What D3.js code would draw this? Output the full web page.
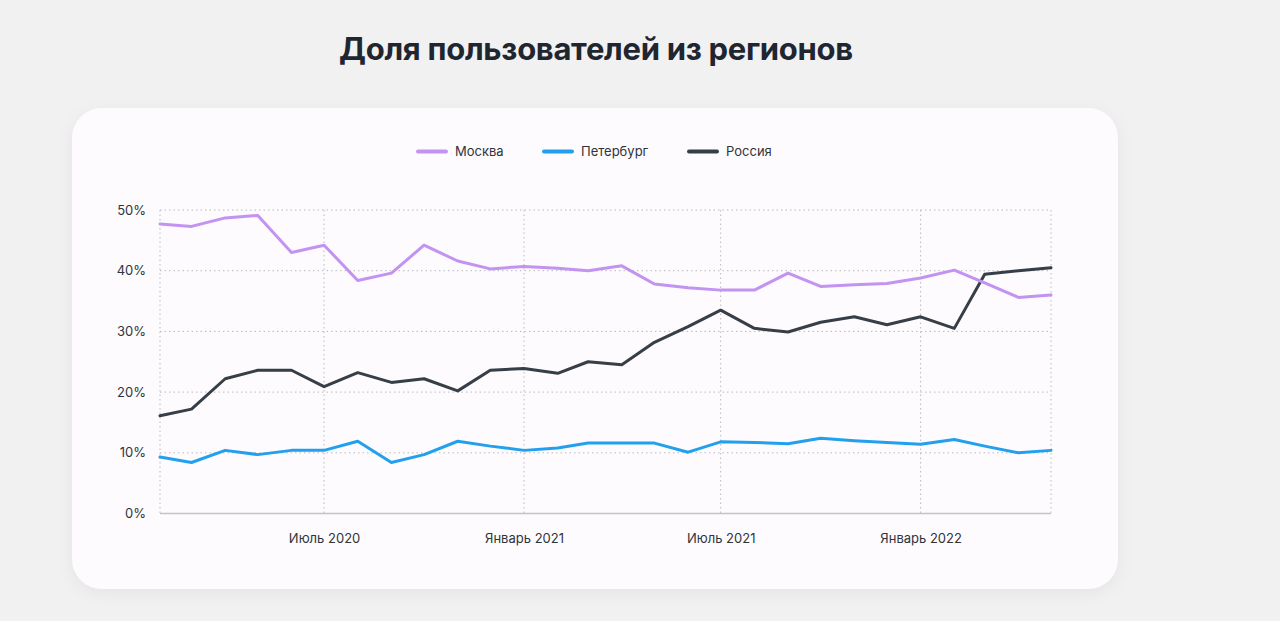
<!DOCTYPE html>
<html>
<head>
<meta charset="utf-8">
<script src="https://cdn.jsdelivr.net/npm/d3@7"></script>
<style>
  html, body { margin: 0; padding: 0; background: #f1f1f2; }
  svg { display: block; }
</style>
</head>
<body>
<svg id="chart" width="1280" height="621"></svg>
<script>
const months = ["2020-02","2020-03","2020-04","2020-05","2020-06","2020-07","2020-08","2020-09","2020-10","2020-11","2020-12",
  "2021-01","2021-02","2021-03","2021-04","2021-05","2021-06","2021-07","2021-08","2021-09","2021-10","2021-11","2021-12",
  "2022-01","2022-02","2022-03","2022-04","2022-05"];
const moscow = [47.7,47.3,48.7,49.1,43.0,44.2,38.4,39.6,44.2,41.6,40.3,40.7,40.4,40.0,40.8,37.8,37.2,36.8,36.8,39.6,37.4,37.7,37.9,38.8,40.1,38.0,35.6,36.0];
const spb =    [9.3,8.4,10.4,9.7,10.4,10.4,11.9,8.4,9.7,11.9,11.1,10.4,10.8,11.6,11.6,11.6,10.1,11.8,11.7,11.5,12.4,12.0,11.7,11.4,12.2,11.1,10.0,10.4];
const russia = [16.1,17.2,22.2,23.6,23.6,20.9,23.2,21.6,22.2,20.2,23.6,23.9,23.1,25.0,24.5,28.2,30.8,33.5,30.5,29.9,31.5,32.4,31.1,32.4,30.5,39.4,40.0,40.5];
const seriesNames = ["Москва","Петербург","Россия"];
const seriesColors = ["#c293f0","#22a0ee","#363e47"];
const yTicks = [0,10,20,30,40,50];
const xTickDates = ["2020-07","2021-01","2021-07","2022-01"];
const xTickLabels = ["Июль 2020","Январь 2021","Июль 2021","Январь 2022"];
const title = "Доля пользователей из регионов";

const parse = d3.timeParse("%Y-%m");
const dates = months.map(parse);
const series = [moscow, spb, russia];

const svg = d3.select("#chart");
const font = "Inter, 'Noto Sans', sans-serif";

const defs = svg.append("defs");
const f = defs.append("filter").attr("id","shadow").attr("x","-10%").attr("y","-10%").attr("width","120%").attr("height","130%");
f.append("feDropShadow").attr("dx",0).attr("dy",4).attr("stdDeviation",8).attr("flood-color","#000").attr("flood-opacity",0.05);

svg.append("text").attr("x",596).attr("y",60).attr("text-anchor","middle")
  .attr("font-family",font).attr("font-weight",700).attr("font-size",31)
  .attr("fill","#1f2630").attr("letter-spacing","-0.3").text(title);

svg.append("rect").attr("x",72).attr("y",108).attr("width",1046).attr("height",481)
  .attr("rx",30).attr("ry",30).attr("fill","#fdfbfd").attr("filter","url(#shadow)");

const x = d3.scaleTime().domain([dates[0], dates[dates.length-1]]).range([160, 1051]);
const y = d3.scaleLinear().domain([0,50]).range([513.5, 210]);

const g = svg.append("g");

// horizontal grid
g.selectAll(".hg").data(yTicks.filter(t=>t>0)).join("line")
  .attr("x1",160).attr("x2",1051).attr("y1",d=>y(d)).attr("y2",d=>y(d))
  .attr("stroke","#b9b9bd").attr("stroke-width",1).attr("stroke-dasharray","1.5,3");
// vertical grid
const vg = [dates[0], ...xTickDates.map(parse), dates[dates.length-1]];
g.selectAll(".vg").data(vg).join("line")
  .attr("x1",d=>x(d)).attr("x2",d=>x(d)).attr("y1",y(50)).attr("y2",y(0))
  .attr("stroke","#b9b9bd").attr("stroke-width",1).attr("stroke-dasharray","1.5,3");
// baseline
g.append("line").attr("x1",160).attr("x2",1051).attr("y1",y(0)).attr("y2",y(0))
  .attr("stroke","#c4c4c8").attr("stroke-width",1.5);

// y labels
const yAxis = d3.axisLeft(y).tickValues(yTicks).tickFormat(d=>d+"%").tickSize(0).tickPadding(14);
const ya = svg.append("g").attr("transform","translate(160,0)").call(yAxis);
ya.select(".domain").remove();
ya.selectAll("text").attr("font-family",font).attr("font-size",13).attr("fill","#2f343b");

// x labels
const xAxis = d3.axisBottom(x).tickValues(xTickDates.map(parse)).tickFormat((d,i)=>xTickLabels[i]).tickSize(0).tickPadding(20);
const xa = svg.append("g").attr("transform",`translate(0,${y(0)})`).call(xAxis);
xa.select(".domain").remove();
xa.selectAll("text").attr("font-family",font).attr("font-size",13).attr("fill","#2f343b");

// lines
const line = d3.line().x((d,i)=>x(dates[i])).y(d=>y(d)).curve(d3.curveLinear);
[2,1,0].forEach(k=>{
  g.append("path").datum(series[k]).attr("d",line).attr("fill","none")
    .attr("stroke",seriesColors[k]).attr("stroke-width",3).attr("stroke-linejoin","round").attr("stroke-linecap","round");
});

// legend
const legX = [418, 544, 689];
const leg = svg.append("g");
seriesNames.forEach((n,i)=>{
  leg.append("line").attr("x1",legX[i]).attr("x2",legX[i]+28).attr("y1",151.5).attr("y2",151.5)
    .attr("stroke",seriesColors[i]).attr("stroke-width",4).attr("stroke-linecap","round");
  leg.append("text").attr("x",legX[i]+37).attr("y",156).attr("font-family",font).attr("font-size",13)
    .attr("fill","#2f343b").text(n);
});
</script>
</body>
</html>
